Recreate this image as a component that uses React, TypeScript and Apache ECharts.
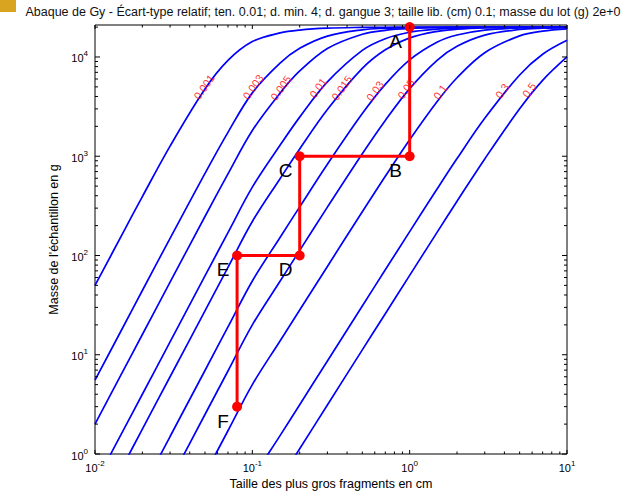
import React, { useEffect, useRef } from 'react';
import * as echarts from 'echarts';

const FONT = '"Liberation Sans", Arial, Helvetica, sans-serif';

// Fragment sizes (cm) at which the curves were read
const sizes = [0.01, 0.015, 0.02, 0.03, 0.05, 0.07, 0.1, 0.15, 0.2, 0.3, 0.5, 0.7, 1, 1.5, 2, 3, 5, 7, 10];

// Relative standard deviation of each curve
const curveNames = ['0.001', '0.003', '0.005', '0.01', '0.015', '0.03', '0.05', '0.1', '0.3', '0.5'];

// Sample mass (g)
const m0001 = [49.9, 167, 392, 1265, 4762, 9233, 14286, 17465, 18679, 19500, 19858, 19938, 19975, 19991, 19996, 19999, 20000, 20000, 20000];
const m0003 = [5.55, 18.7, 44.4, 149, 671, 1740, 4348, 8672, 12222, 16247, 18790, 19459, 19775, 19918, 19960, 19985, 19996, 19998, 19999];
const m0005 = [2.0, 6.75, 16.0, 53.9, 247, 663, 1818, 4321, 7225, 12183, 16965, 18568, 19387, 19773, 19889, 19959, 19989, 19995, 19998];
const m001 = [0.5, 1.69, 4.0, 13.5, 62.3, 170, 488, 1289, 2478, 5608, 11658, 15284, 17754, 19122, 19563, 19839, 19955, 19980, 19992];
const m0015 = [0.222, 0.75, 1.78, 6.0, 27.7, 75.9, 220, 594, 1183, 2953, 7663, 11805, 15569, 18128, 19042, 19641, 19899, 19956, 19982];
const m003 = [0.0556, 0.1875, 0.444, 1.5, 6.94, 19.05, 55.4, 152, 309, 830, 2688, 5295, 9353, 14152, 16650, 18639, 19601, 19826, 19928];
const m005 = [0.02, 0.0675, 0.16, 0.54, 2.5, 6.86, 20.0, 55.0, 112.5, 307, 1059, 2295, 4805, 9313, 12829, 16628, 18929, 19524, 19802];
const m01 = [0.005, 0.0169, 0.04, 0.135, 0.625, 1.715, 5.0, 13.77, 28.2, 77.6, 276, 628, 1465, 3578, 6180, 11041, 16311, 18222, 19231];
const m03 = [0.00056, 0.0019, 0.0044, 0.015, 0.069, 0.19, 0.556, 1.53, 3.14, 8.66, 31.0, 71.8, 174, 473, 947, 2409, 6586, 10647, 14706];
const m05 = [0.0002, 0.000675, 0.0016, 0.0054, 0.025, 0.0686, 0.2, 0.551, 1.13, 3.12, 11.2, 25.9, 63.0, 173, 352, 940, 3004, 5814, 10000];
const curveMasses = [m0001, m0003, m0005, m001, m0015, m003, m005, m01, m03, m05];

// Curve label anchor positions (size cm, mass g)
const labelX = [0.0493, 0.101, 0.152, 0.262, 0.371, 0.602, 0.948, 1.56, 3.87, 5.74];
const labelY = [4980, 4980, 4865, 4865, 4865, 4540, 4755, 4436, 4540, 4647];

// Worked example path
const pathLetters = ['A', 'B', 'C', 'D', 'E', 'F'];
const pathX = [1, 1, 0.2, 0.2, 0.08, 0.08];
const pathY = [20000, 1000, 1000, 100, 100, 3];

// Axis ticks
const X_MIN = 0.01;
const X_MAX = 10;
const Y_MIN = 1;
const Y_MAX = 21000;
const xMajorTicks = [0.01, 0.1, 1, 10];
const yMajorTicks = [1, 10, 100, 1000, 10000];
const mantissas = [2, 3, 4, 5, 6, 7, 8, 9];
const xDecades = [0.01, 0.1, 1];
const yDecades = [1, 10, 100, 1000];
const xMinorTicks = xDecades.flatMap((d) => mantissas.map((m) => +(m * d).toPrecision(3)));
const yMinorTicks = [...yDecades.flatMap((d) => mantissas.map((m) => m * d)), 20000];

const TITLE =
  "Abaque de Gy - Écart-type relatif; ten. 0.01; d. min. 4; d. gangue 3; taille lib. (cm) 0.1; masse du lot (g) 2e+0";

function supLabel(v: number) {
  const e = Math.round(Math.log10(v));
  return `{b|10}{s|${e}}`;
}

const rich = {
  b: { fontSize: 11, fontFamily: FONT, color: '#000', verticalAlign: 'bottom' },
  s: { fontSize: 8, fontFamily: FONT, color: '#000', verticalAlign: 'top', padding: [0, 0, 6, 0] },
};

export default function App() {
  const ref = useRef<HTMLDivElement>(null);

  useEffect(() => {
    if (!ref.current) return;
    const chart = echarts.init(ref.current, undefined, { renderer: 'svg' });

    const curveSeries = curveMasses.map((arr, i) => ({
      type: 'line',
      name: curveNames[i],
      data: sizes.map((d, j) => [d, arr[j]]),
      showSymbol: false,
      symbol: 'none',
      smooth: 0.35,
      clip: true,
      lineStyle: { color: '#0000ff', width: 1.7 },
      silent: true,
      z: 2,
    }));

    const xTickData = [
      ...xMajorTicks.map((v) => [v, 1, 4]),
      ...xMinorTicks.map((v) => [v, 1, 2.5]),
    ];
    const yTickData = [
      ...yMajorTicks.map((v) => [0.01, v, 5]),
      ...yMinorTicks.map((v) => [0.01, v, 3]),
    ];

    const option: any = {
      animation: false,
      backgroundColor: '#fff',
      grid: {
        left: 95,
        right: 71,
        top: 25,
        bottom: 38,
        show: true,
        borderColor: '#000',
        borderWidth: 1,
        backgroundColor: 'transparent',
        containLabel: false,
        outerBoundsMode: 'none',
      },
      graphic: [
        { type: 'rect', left: 0, top: 0, shape: { width: 16, height: 12 }, style: { fill: '#D9A520' }, z: 10 },
        {
          type: 'text',
          x: 323,
          y: 11.5,
          style: {
            text: TITLE,
            fontSize: 12.5,
            fontFamily: FONT,
            fill: '#111',
            textAlign: 'center',
            textVerticalAlign: 'middle',
          },
          z: 10,
        },
      ],
      xAxis: {
        type: 'log',
        logBase: 10,
        min: X_MIN,
        max: X_MAX,
        name: 'Taille des plus gros fragments en cm',
        nameLocation: 'middle',
        nameGap: 23,
        nameTextStyle: { fontSize: 12.5, fontFamily: FONT, color: '#000' },
        axisLine: { show: false },
        axisTick: { show: false },
        splitLine: { show: false },
        minorTick: { show: false },
        axisLabel: { formatter: supLabel, rich, margin: 5, color: '#000' },
      },
      yAxis: {
        type: 'log',
        logBase: 10,
        min: Y_MIN,
        max: Y_MAX,
        name: "Masse de l'échantillon en g",
        nameLocation: 'middle',
        nameGap: 27,
        nameTextStyle: { fontSize: 12.5, fontFamily: FONT, color: '#000' },
        axisLine: { show: false },
        axisTick: { show: false },
        splitLine: { show: false },
        axisLabel: { formatter: supLabel, rich, margin: 7, color: '#000', showMaxLabel: false },
      },
      series: [
        ...curveSeries,
        {
          type: 'scatter',
          data: labelX.map((x, i) => ({ value: [x, labelY[i]], name: curveNames[i] })),
          symbolSize: 1,
          itemStyle: { color: 'rgba(0,0,0,0)' },
          label: {
            show: true,
            position: 'inside',
            formatter: (p: any) => p.name,
            rotate: 55,
            color: '#ff0000',
            fontSize: 11,
            fontFamily: FONT,
          },
          silent: true,
          z: 4,
        },
        {
          type: 'line',
          data: pathX.map((x, i) => [x, pathY[i]]),
          symbol: 'circle',
          symbolSize: 10,
          showSymbol: true,
          itemStyle: { color: '#ff0000' },
          lineStyle: { color: '#ff0000', width: 3 },
          label: {
            show: true,
            position: 'bottom',
            distance: 5,
            offset: [-14, -5],
            formatter: (p: any) => pathLetters[p.dataIndex],
            fontSize: 19,
            fontFamily: FONT,
            color: '#000',
          },
          silent: true,
          z: 6,
        },
        {
          type: 'custom',
          data: xTickData,
          silent: true,
          z: 7,
          renderItem: (params: any, api: any) => {
            const v = api.value(0);
            const len = api.value(2);
            const b = api.coord([v, Y_MIN]);
            const t = api.coord([v, Y_MAX]);
            return {
              type: 'group',
              children: [
                { type: 'line', shape: { x1: b[0], y1: b[1], x2: b[0], y2: b[1] - len }, style: { stroke: '#000', lineWidth: 1 } },
                { type: 'line', shape: { x1: t[0], y1: t[1], x2: t[0], y2: t[1] + len }, style: { stroke: '#000', lineWidth: 1 } },
              ],
            };
          },
        },
        {
          type: 'custom',
          data: yTickData,
          silent: true,
          z: 7,
          renderItem: (params: any, api: any) => {
            const v = api.value(1);
            const len = api.value(2);
            const l = api.coord([X_MIN, v]);
            const r = api.coord([X_MAX, v]);
            return {
              type: 'group',
              children: [
                { type: 'line', shape: { x1: l[0], y1: l[1], x2: l[0] + len, y2: l[1] }, style: { stroke: '#000', lineWidth: 1 } },
                { type: 'line', shape: { x1: r[0], y1: r[1], x2: r[0] - len, y2: r[1] }, style: { stroke: '#000', lineWidth: 1 } },
              ],
            };
          },
        },
      ],
    };

    chart.setOption(option);
    return () => chart.dispose();
  }, []);

  return (
    <div
      ref={ref}
      style={{ position: 'fixed', left: 0, top: 0, width: 638, height: 492, background: '#fff' }}
    />
  );
}
